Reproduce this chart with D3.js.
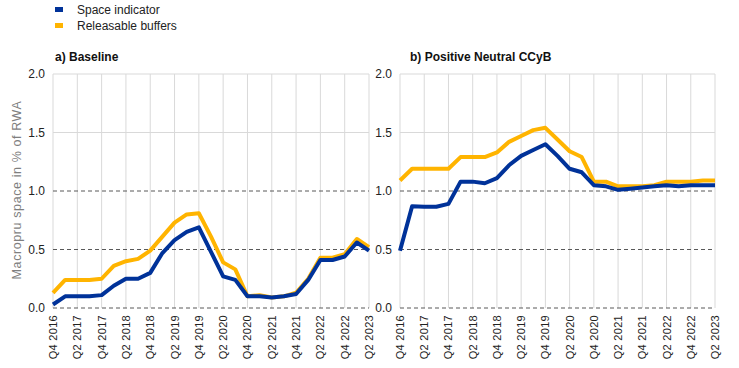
<!DOCTYPE html>
<html>
<head>
<meta charset="utf-8">
<script src="https://cdn.jsdelivr.net/npm/d3@7"></script>
<style>
  body { margin: 0; background: #fff; }
  text { font-family: Arial, "Liberation Sans", sans-serif; }
</style>
</head>
<body>
<script>
// quarters Q4 2016 .. Q2 2023
var quarters = [
  "Q4 2016", "Q1 2017", "Q2 2017", "Q3 2017", "Q4 2017", "Q1 2018", "Q2 2018", "Q3 2018", "Q4 2018",
  "Q1 2019", "Q2 2019", "Q3 2019", "Q4 2019", "Q1 2020", "Q2 2020", "Q3 2020", "Q4 2020",
  "Q1 2021", "Q2 2021", "Q3 2021", "Q4 2021", "Q1 2022", "Q2 2022", "Q3 2022", "Q4 2022",
  "Q1 2023", "Q2 2023"
];
var yTicks = [0, 0.5, 1.0, 1.5, 2.0];

// a) Baseline
var baseSpace = [0.03, 0.10, 0.10, 0.10, 0.11, 0.19, 0.25, 0.25, 0.30, 0.47, 0.58, 0.65, 0.69,
  0.48, 0.27, 0.24, 0.10, 0.10, 0.09, 0.10, 0.12, 0.24, 0.41, 0.41, 0.44, 0.56, 0.49];
var baseBuffers = [0.13, 0.24, 0.24, 0.24, 0.25, 0.36, 0.40, 0.42, 0.49, 0.61, 0.73, 0.80, 0.81,
  0.61, 0.39, 0.33, 0.10, 0.11, 0.09, 0.10, 0.13, 0.25, 0.43, 0.43, 0.46, 0.59, 0.52];

// b) Positive Neutral CCyB
var pnSpace = [0.49, 0.87, 0.866, 0.866, 0.89, 1.08, 1.08, 1.066, 1.11, 1.22, 1.30, 1.35, 1.40,
  1.30, 1.19, 1.16, 1.05, 1.04, 1.01, 1.02, 1.03, 1.04, 1.05, 1.04, 1.05, 1.05, 1.05];
var pnBuffers = [1.09, 1.19, 1.19, 1.19, 1.19, 1.29, 1.29, 1.29, 1.33, 1.42, 1.47, 1.52, 1.54,
  1.44, 1.34, 1.29, 1.08, 1.08, 1.04, 1.04, 1.04, 1.05, 1.08, 1.08, 1.08, 1.09, 1.09];

var seriesNames = ["Space indicator", "Releasable buffers"];
var colors = ["#003299", "#FFB400"];

var width = 739, height = 368;
var svg = d3.select("body").append("svg")
  .attr("width", width)
  .attr("height", height);

// legend
var legend = svg.append("g");
seriesNames.forEach(function (name, i) {
  legend.append("rect")
    .attr("x", 55).attr("y", 7 + i * 16)
    .attr("width", 8).attr("height", 5)
    .attr("fill", colors[i]);
  legend.append("text")
    .attr("x", 77).attr("y", 14 + i * 16)
    .attr("font-size", 12)
    .attr("fill", "#222")
    .text(name);
});

// y axis title
svg.append("text")
  .attr("transform", "translate(21,190) rotate(-90)")
  .attr("text-anchor", "middle")
  .attr("font-size", 12.5)
  .attr("letter-spacing", 0.6)
  .attr("fill", "#7f7f7f")
  .text("Macropru space in % of RWA");

function drawPanel(left, right, title, titleX, space, buffers) {
  var top = 74, bottom = 308;
  var x = d3.scalePoint().domain(quarters).range([left, right]);
  var y = d3.scaleLinear().domain([0, 2]).range([bottom, top]);
  var g = svg.append("g");

  // vertical grid every two quarters
  var labelled = quarters.filter(function (q, i) { return i % 2 === 0; });
  g.selectAll(".vgrid").data(labelled).enter().append("line")
    .attr("x1", function (d) { return x(d); })
    .attr("x2", function (d) { return x(d); })
    .attr("y1", top).attr("y2", bottom)
    .attr("stroke", "#d9d9d9").attr("stroke-width", 1);

  // horizontal grid, dashed up to 1.0
  g.selectAll(".hgrid").data(yTicks).enter().append("line")
    .attr("x1", left).attr("x2", right)
    .attr("y1", function (d) { return y(d); })
    .attr("y2", function (d) { return y(d); })
    .attr("stroke", function (d) { return d <= 1 ? "#595959" : "#d9d9d9"; })
    .attr("stroke-width", 1)
    .attr("stroke-dasharray", function (d) { return d <= 1 ? "4,3" : null; });

  // y tick labels
  g.selectAll(".ylab").data(yTicks).enter().append("text")
    .attr("x", left - 8)
    .attr("y", function (d) { return y(d) + 4; })
    .attr("text-anchor", "end")
    .attr("font-size", 12)
    .attr("fill", "#222")
    .text(function (d) { return d3.format(".1f")(d); });

  // x tick labels
  g.selectAll(".xlab").data(labelled).enter().append("text")
    .attr("transform", function (d) { return "translate(" + (x(d) + 4) + "," + (bottom + 7) + ") rotate(-90)"; })
    .attr("text-anchor", "end")
    .attr("font-size", 11)
    .attr("letter-spacing", 0.3)
    .attr("fill", "#222")
    .text(function (d) { return d; });

  // title
  g.append("text")
    .attr("x", titleX).attr("y", 61)
    .attr("font-size", 12)
    .attr("font-weight", "bold")
    .attr("fill", "#111")
    .text(title);

  var line = d3.line()
    .x(function (d, i) { return x(quarters[i]); })
    .y(function (d) { return y(d); });

  g.append("path").datum(buffers)
    .attr("d", line).attr("fill", "none")
    .attr("stroke", colors[1]).attr("stroke-width", 4)
    .attr("stroke-linejoin", "round");
  g.append("path").datum(space)
    .attr("d", line).attr("fill", "none")
    .attr("stroke", colors[0]).attr("stroke-width", 4)
    .attr("stroke-linejoin", "round");
}

drawPanel(53, 369, "a) Baseline", 55, baseSpace, baseBuffers);
drawPanel(400, 715, "b) Positive Neutral CCyB", 410, pnSpace, pnBuffers);
</script>
</body>
</html>
